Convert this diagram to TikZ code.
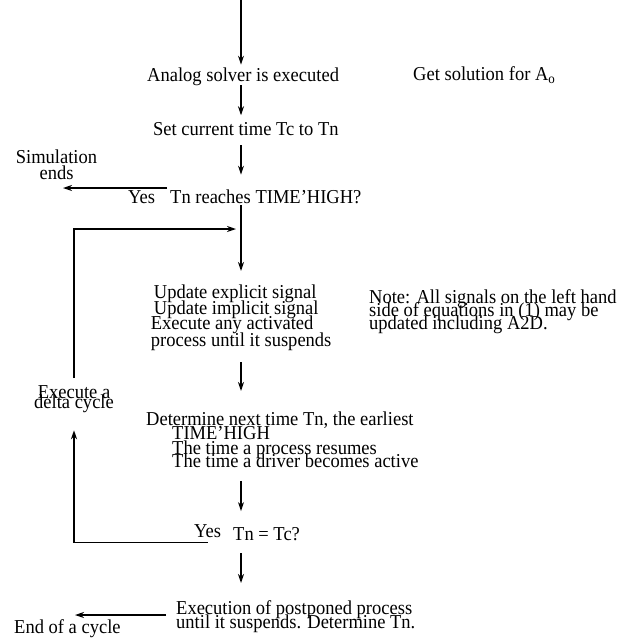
\documentclass[tikz,border=0pt]{standalone}
\usepackage{fontspec}
\setmainfont[FakeStretch=0.94]{Liberation Serif}
\usetikzlibrary{arrows.meta}
\begin{document}
\begin{tikzpicture}[x=1pt, y=-1pt,
		flow/.style={line width=1.3pt, -{Stealth[length=9pt,width=6pt]}},
		txt/.style={inner sep=0pt, font={\fontsize{19.7}{14}\selectfont\lineskiplimit-50pt\relax}}]
			% cadre de la page
			\useasboundingbox (0,0) rectangle (635,638);
			\coordinate (top) at (241,0);
			\coordinate (join) at (236,229);
			\coordinate (simtip) at (63,188);
			\coordinate (endtip) at (75,615);
			\node[txt, anchor=base west] (solver) at (147,81) {Analog solver is executed};
			\node[txt, anchor=base west] (get) at (413,80) {Get solution for A\textsubscript{o}};
			\node[txt, anchor=base west] (settime) at (153,135) {Set current time Tc to Tn};
			\node[txt, anchor=north, align=center] (sim) at (56.5,149.5) {Simulation\\[2pt]ends};
			\node[txt, anchor=base west] (yes1) at (128,203) {Yes};
			\node[txt, anchor=base west] (reach) at (170,203) {Tn reaches TIME'HIGH?};
			\node[txt, anchor=north west, align=left] (update) at (150.7,284.5) {\hspace{3pt}Update explicit signal\\[2pt]\hspace{3pt}Update implicit signal\\[1pt]Execute any activated\\[3pt]process until it suspends};
			\node[txt, anchor=north west, align=left] (note) at (369,289.5) {Note: All signals on the left hand\\[-1pt]side of equations in (1) may be\\[-1pt]updated including A2D.};
			\node[txt, anchor=north, align=center] (delta) at (74,385) {Execute a\\[-4pt]delta cycle};
			\node[txt, anchor=north west, align=left] (determine) at (146,411.5) {Determine next time Tn, the earliest\\\hspace{26pt}TIME'HIGH\\[1pt]\hspace{26pt}The time a process resumes\\[-1pt]\hspace{26pt}The time a driver becomes active};
			\node[txt, anchor=base west] (yes2) at (194,537) {Yes};
			\node[txt, anchor=base west] (check) at (233,540) {Tn = Tc?};
			\node[txt, anchor=north west, align=left] (postpone) at (176,600) {Execution of postponed process\\until it suspends. Determine Tn.};
			\node[txt, anchor=base west] (end) at (14,633) {End of a cycle};
			\draw[flow, shorten >=2.5pt] (top) -- (solver.north -| top);
			\draw[flow, shorten >=6.5pt] (solver.south -| top) -- (settime.north -| top);
			\draw[flow, shorten <=10pt, shorten >=14.5pt] (settime.south -| top) -- (reach.north -| top);
			\draw[flow, shorten <=2pt, shorten >=13.5pt] (reach.south -| top) -- (update.north -| top);
			\draw[flow, shorten <=11.7pt, shorten >=20.5pt] (update.south -| top) -- (determine.north -| top);
			\draw[flow, shorten <=13pt, shorten >=15.7pt] (determine.south -| top) -- (check.north -| top);
			\draw[flow, shorten <=13pt, shorten >=17pt] (check.south -| top) -- (postpone.north -| top);
			\draw[flow] ([xshift=-3pt]reach.north west |- simtip) -- (simtip);
			\draw[flow] ([xshift=-10pt]postpone.north west |- endtip) -- (endtip);
			\draw[flow] ([yshift=-5pt]yes2.south) -| ([yshift=-17.7pt]delta.south);
			\draw[flow] ([yshift=7pt]delta.north) |- (join);
		\end{tikzpicture}
\end{document}
